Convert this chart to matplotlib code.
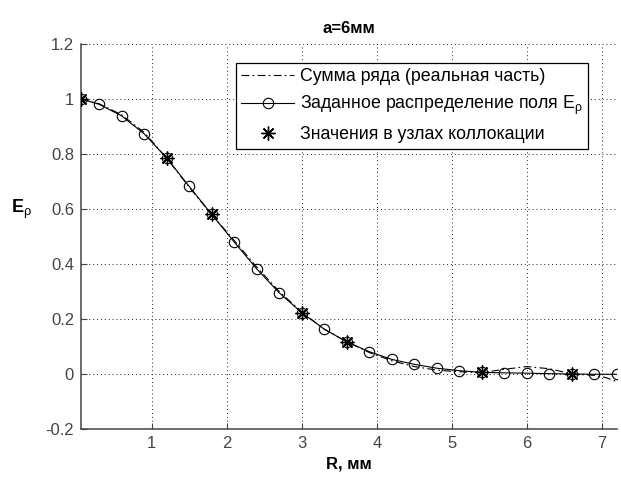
import matplotlib
matplotlib.use("Agg")
import matplotlib.pyplot as plt

plt.rcParams['font.family'] = ['Liberation Sans', 'DejaVu Sans']
plt.rcParams['mathtext.fontset'] = 'custom'
plt.rcParams['mathtext.rm'] = 'Liberation Sans'
plt.rcParams['mathtext.it'] = 'Liberation Sans:italic'
plt.rcParams['mathtext.bf'] = 'Liberation Sans:bold'

# Series sum (real part)
sum_r = [0.06, 0.3, 0.6, 0.9, 1.2, 1.5, 1.8, 2.1, 2.4, 2.7, 3.0, 3.3, 3.6,
         3.9, 4.2, 4.5, 4.8, 5.1, 5.4, 5.7, 6.0, 6.3, 6.6, 6.9, 7.05, 7.2]
sum_e = [1.000, 0.983, 0.943, 0.879, 0.786, 0.680, 0.581, 0.486, 0.390,
         0.301, 0.226, 0.164, 0.118, 0.079, 0.049, 0.028, 0.015, 0.009,
         0.006, 0.018, 0.028, 0.020, 0.001, -0.004, -0.012, -0.027]

# Prescribed field distribution
given_r = [0.06, 0.3, 0.6, 0.9, 1.2, 1.5, 1.8, 2.1, 2.4, 2.7, 3.0, 3.3, 3.6,
           3.9, 4.2, 4.5, 4.8, 5.1, 5.4, 5.7, 6.0, 6.3, 6.6, 6.9, 7.2]
given_e = [1.000, 0.981, 0.939, 0.874, 0.786, 0.683, 0.581, 0.481, 0.383,
           0.296, 0.224, 0.164, 0.118, 0.082, 0.054, 0.036, 0.022, 0.013,
           0.007, 0.005, 0.004, 0.002, 0.001, 0.000, 0.000]

# Collocation nodes
node_r = [0.06, 1.2, 1.8, 3.0, 3.6, 5.4, 6.6]
node_e = [1.000, 0.786, 0.581, 0.224, 0.118, 0.007, 0.001]

x_ticks = [1, 2, 3, 4, 5, 6, 7]
y_ticks = [-0.2, 0, 0.2, 0.4, 0.6, 0.8, 1.0, 1.2]
y_tick_labels = ['-0.2', '0', '0.2', '0.4', '0.6', '0.8', '1', '1.2']

fig = plt.figure(figsize=(6.21, 4.79), dpi=100)
ax = fig.add_axes([81 / 621, 1 - 429.3 / 479, 536 / 621, 385.3 / 479])

ax.plot(sum_r, sum_e, color='black', lw=0.8, ls=(0, (7, 3, 1.5, 3)),
        label='Сумма ряда (реальная часть)', zorder=3)
ax.plot(given_r, given_e, color='black', lw=0.8, marker='o', ms=7.5,
        mfc='none', mec='black', mew=0.8,
        label=r'Заданное распределение поля $\mathrm{E_{ρ}}$', zorder=4)
ax.plot(node_r, node_e, ls='none', marker=(8, 2, 0), ms=10, mec='black',
        mew=1.0, color='black', label='Значения в узлах коллокации', zorder=5)

ax.set_xlim(0.06, 7.2)
ax.set_ylim(-0.2, 1.2)
ax.set_xticks(x_ticks)
ax.set_yticks(y_ticks)
ax.set_yticklabels(y_tick_labels)

ax.grid(True, color='#222222', ls=(0, (1, 3)), lw=0.7)
for side in ('top', 'right'):
    ax.spines[side].set_visible(False)
for side in ('left', 'bottom'):
    ax.spines[side].set_color('#444444')
    ax.spines[side].set_linewidth(1.1)
ax.tick_params(direction='in', length=4, width=0.8, color='#444444',
               labelsize=12, labelcolor='#444444', pad=5)

ax.set_title('a=6мм', fontsize=12, fontweight='bold', pad=8)
ax.set_xlabel('R, мм', fontsize=12, fontweight='bold', labelpad=4)
ax.set_ylabel(r'$\mathbf{E}_{\mathrm{ρ}}$', fontsize=13, rotation=0)
ax.yaxis.set_label_coords(-0.112, 0.54)

leg = ax.legend(loc='upper right', bbox_to_anchor=(0.946, 0.9507),
                borderaxespad=0, fontsize=12.8, frameon=True, fancybox=False,
                edgecolor='black', handlelength=3.0, handletextpad=0.3,
                labelspacing=0.5, borderpad=0.3, numpoints=1)
leg.get_frame().set_linewidth(0.9)
leg.get_frame().set_alpha(1)

fig.savefig('out.png', dpi=100)
